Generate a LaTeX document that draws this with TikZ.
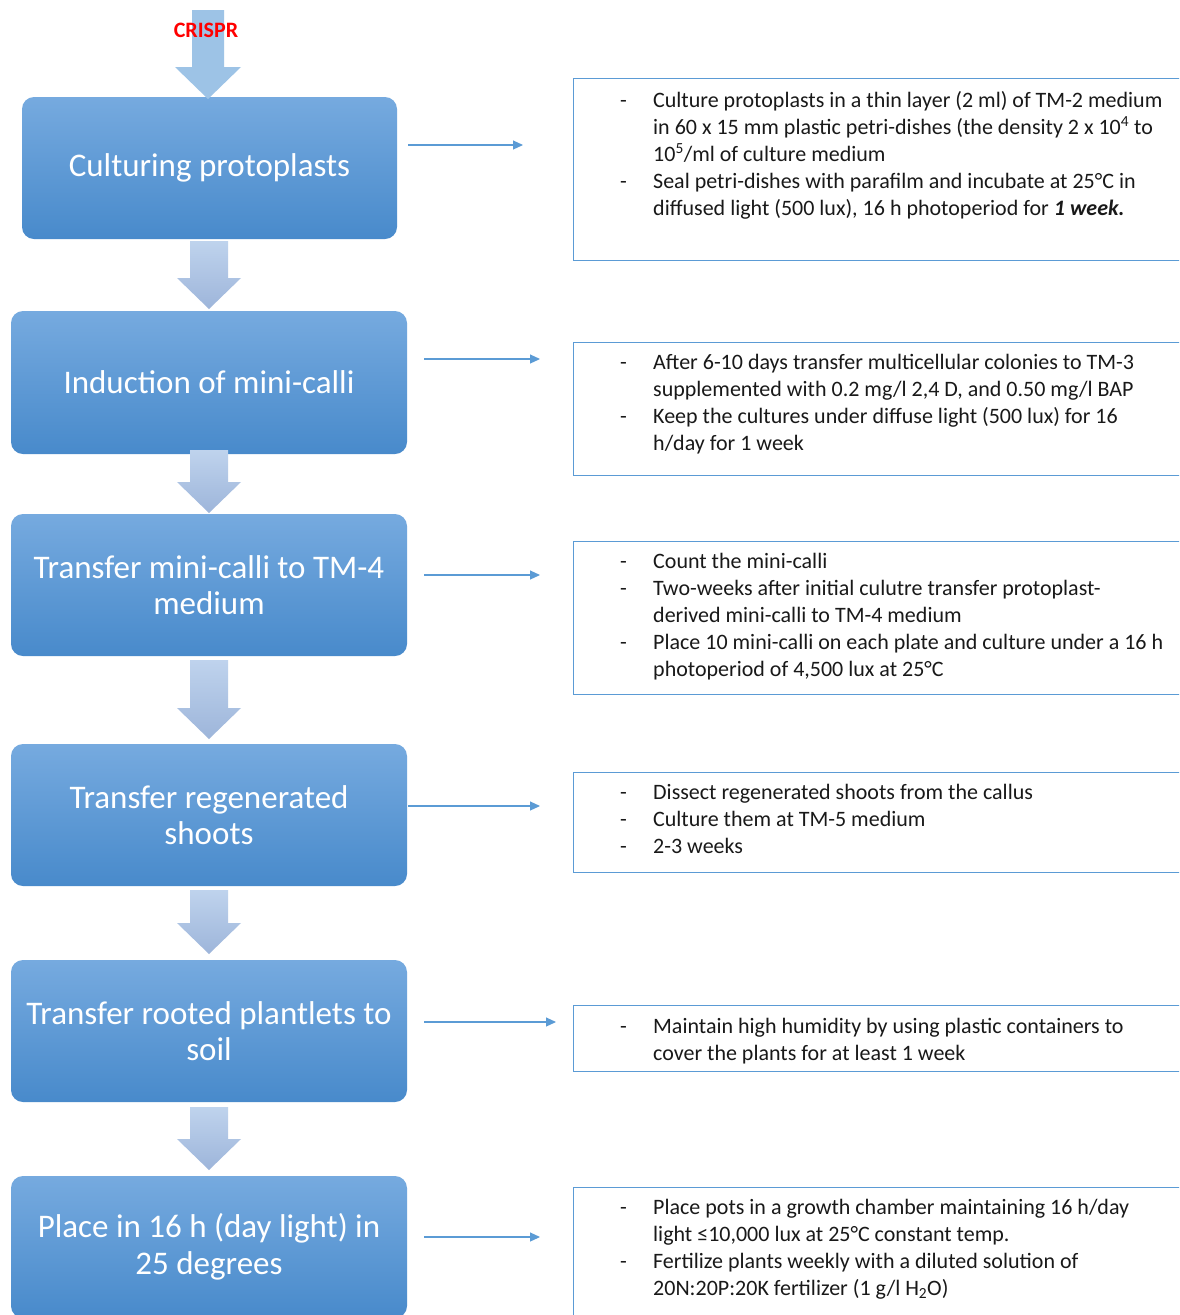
\documentclass[tikz,border=0pt]{standalone}
\usepackage{fontspec}
\setmainfont{Carlito}
\usetikzlibrary{arrows.meta,calc}
\definecolor{boxtop}{HTML}{76AADF}
\definecolor{boxbot}{HTML}{488ACB}
\definecolor{arrtop}{HTML}{BFD3ED}
\definecolor{arrbot}{HTML}{9DB5DA}
\definecolor{crisparr}{HTML}{9DC3E6}
\definecolor{lineblue}{HTML}{5B9BD5}
\definecolor{crispred}{HTML}{FF0000}
\tikzset{
  stepbox/.style={rounded corners=12pt, top color=boxtop, bottom color=boxbot, draw=none,
    text=white, font=\fontsize{33}{36.5}\selectfont, align=center, inner sep=0pt,
    minimum width=396pt, minimum height=142pt},
  infobox/.style={draw=lineblue, line width=1.2pt, anchor=north west, inner sep=0pt,
    minimum width=640pt},
  infotext/.style={anchor=base west, inner sep=0pt, font=\fontsize{22}{27}\selectfont, text=black!90},
  conn/.style={draw=lineblue, line width=1.1pt, -{Triangle[length=10pt,width=9pt]}},
  arrowshade/.style={top color=arrtop, bottom color=arrbot, draw=none}
}
\newcommand\blockarr[2]{%
  \shade[arrowshade] ($(#1)+(-19,0)$) -- ($(#1)+(19,0)$) -- ($(#2)+(19,-31)$) -- ($(#2)+(32,-31)$)
    -- (#2) -- ($(#2)+(-32,-31)$) -- ($(#2)+(-19,-31)$) -- cycle;}
\newcommand\dashrow[1]{\begin{tabular}[t]{@{}p{33pt}@{}l@{}}#1\end{tabular}}
\begin{document}
\begin{tikzpicture}[x=1pt,y=-1pt]
\clip (0,0) rectangle (1179,1315);
\fill[white] (0,0) rectangle (1179,1315);

% left step boxes
\node[stepbox, minimum width=375pt] (l1) at (209.5,168) {Culturing protoplasts};
\node[stepbox, minimum height=143pt] (l2) at (209,382.5) {Induction of mini-calli};
\node[stepbox] (l3) at (209,585) {Transfer mini-calli to TM-4\\medium};
\node[stepbox] (l4) at (209,815) {Transfer regenerated\\shoots};
\node[stepbox] (l5) at (209,1031) {Transfer rooted plantlets to\\soil};
\node[stepbox] (l6) at (209,1247) {Place in 16 h (day light) in\\25 degrees};

% CRISPR arrow
\coordinate (cs) at (208,10);
\coordinate (ce) at (208,99);
\fill[crisparr] ($(cs)+(-16,0)$) -- ($(cs)+(16,0)$) -- ($(ce)+(16,-32)$) -- ($(ce)+(33,-32)$)
  -- (ce) -- ($(ce)+(-33,-32)$) -- ($(ce)+(-16,-32)$) -- cycle;
\node[font=\fontsize{22}{24}\selectfont\bfseries, text=crispred, inner sep=0pt] (crispr) at (206,30) {CRISPR};

% block arrows between steps
\coordinate (b1s) at (209,241); \coordinate (b1e) at (209,309);
\coordinate (b2s) at (209,450); \coordinate (b2e) at (209,513);
\coordinate (b3s) at (209,660); \coordinate (b3e) at (209,739);
\coordinate (b4s) at (209,890); \coordinate (b4e) at (209,954);
\coordinate (b5s) at (209,1107); \coordinate (b5e) at (209,1170);
\blockarr{b1s}{b1e}
\blockarr{b2s}{b2e}
\blockarr{b3s}{b3e}
\blockarr{b4s}{b4e}
\blockarr{b5s}{b5e}

% right info boxes
\node[infobox, minimum height=182pt] (r1) at (573,78) {};
\node[infobox, minimum height=133pt] (r2) at (573,342) {};
\node[infobox, minimum height=153pt] (r3) at (573,541) {};
\node[infobox, minimum height=100pt] (r4) at (573,772) {};
\node[infobox, minimum height=66pt] (r5) at (573,1005) {};
\node[infobox, minimum height=140pt] (r6) at (573,1187) {};

% texts
\node[infotext] (t1) at (620,107) {\dashrow{
 - & Culture protoplasts in a thin layer (2 ml) of TM-2 medium\\
   & in 60 x 15 mm plastic petri-dishes (the density 2 x 10\textsuperscript{4} to\\
   & 10\textsuperscript{5}/ml of culture medium\\
 - & Seal petri-dishes with parafilm and incubate at 25°C in\\
   & diffused light (500 lux), 16 h photoperiod for \textbf{\textit{1 week.}}}};
\node[infotext] (t2) at (620,369) {\dashrow{
 - & After 6-10 days transfer multicellular colonies to TM-3\\
   & supplemented with 0.2 mg/l 2,4 D, and 0.50 mg/l BAP\\
 - & Keep the cultures under diffuse light (500 lux) for 16\\
   & h/day for 1 week}};
\node[infotext] (t3) at (620,568) {\dashrow{
 - & Count the mini-calli\\
 - & Two-weeks after initial culutre transfer protoplast-\\
   & derived mini-calli to TM-4 medium\\
 - & Place 10 mini-calli on each plate and culture under a 16 h\\
   & photoperiod of 4,500 lux at 25°C}};
\node[infotext] (t4) at (620,799) {\dashrow{
 - & Dissect regenerated shoots from the callus\\
 - & Culture them at TM-5 medium\\
 - & 2-3 weeks}};
\node[infotext] (t5) at (620,1033) {\dashrow{
 - & Maintain high humidity by using plastic containers to\\
   & cover the plants for at least 1 week}};
\node[infotext] (t6) at (620,1214) {\dashrow{
 - & Place pots in a growth chamber maintaining 16 h/day\\
   & light ≤10,000 lux at 25°C constant temp.\\
 - & Fertilize plants weekly with a diluted solution of\\
   & 20N:20P:20K fertilizer (1 g/l H\textsubscript{2}O)}};

% connectors
\coordinate (c1s) at (408,145); \coordinate (c1e) at (523,145);
\coordinate (c2s) at (424,359); \coordinate (c2e) at (540,359);
\coordinate (c3s) at (424,575); \coordinate (c3e) at (540,575);
\coordinate (c4s) at (408,806); \coordinate (c4e) at (540,806);
\coordinate (c5s) at (424,1022); \coordinate (c5e) at (556,1022);
\coordinate (c6s) at (424,1237); \coordinate (c6e) at (540,1237);
\draw[conn] (c1s) -- (c1e);
\draw[conn] (c2s) -- (c2e);
\draw[conn] (c3s) -- (c3e);
\draw[conn] (c4s) -- (c4e);
\draw[conn] (c5s) -- (c5e);
\draw[conn] (c6s) -- (c6e);
\end{tikzpicture}
\end{document}
